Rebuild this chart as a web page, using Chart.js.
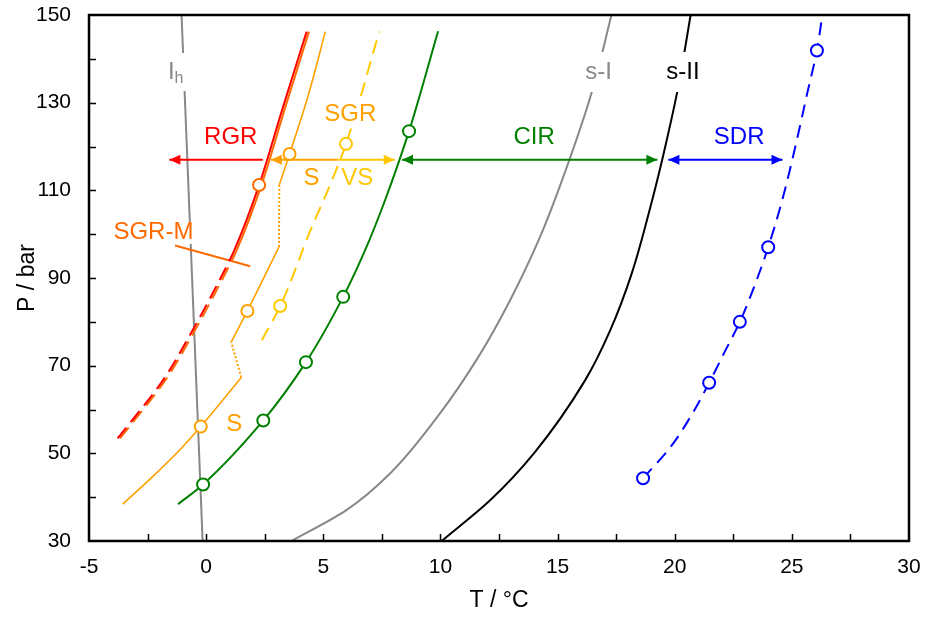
<!DOCTYPE html>
<html>
<head>
<meta charset="utf-8">
<script src="https://cdn.jsdelivr.net/npm/chart.js@4.4.1/dist/chart.umd.min.js"></script>
<style>
  html, body { margin: 0; padding: 0; background: #fff; }
</style>
</head>
<body>
<canvas id="chart" width="930" height="619"></canvas>
<script>
// Hydrate phase boundaries: T in °C, P in bar

// ice Ih melting line
const ihT = [-0.15, -1.05];
const ihP = [30, 150];

// structure I and structure II equilibrium curves
const sIT = [3.58, 6.0, 7.85, 9.98, 11.62, 12.98, 14.27, 15.50, 16.51, 17.30];
const sIP = [29.8, 37.1, 45.4, 59.1, 72.0, 85.0, 99.6, 116.9, 133.3, 150];
const sIIT = [10.05, 12.12, 13.99, 16.18, 17.25, 18.17, 19.04, 19.61, 20.15, 20.68];
const sIIP = [30, 39.3, 50.0, 66.7, 78.1, 91.1, 107.8, 120.3, 133.6, 150];

// RGR (red) and SGR (orange) boundaries, dashed below dashBelowP
const dashBelowP = 96.2;
const rgrT = [-3.78, -1.84, -0.65, 0.51, 1.19, 2.26, 3.24, 4.29];
const rgrP = [53.4, 66.7, 77.4, 88.9, 96.2, 111.2, 128.3, 146.2];
const sgrT = [-3.68, -1.74, -0.55, 0.61, 1.29, 2.36, 3.34, 4.39];
const sgrP = [53.4, 66.7, 77.4, 88.9, 96.2, 111.2, 128.3, 146.2];
const sgrMarkT = [2.26];
const sgrMarkP = [111.2];

// SGR-M tie line
const sgrmT = [-1.33, 1.88];
const sgrmP = [97.4, 92.7];

// S curve, three solid pieces joined by dotted steps
const sLowT = [-3.56, -2.34, -1.21, -0.23, 1.50];
const sLowP = [38.4, 44.4, 50.3, 56.1, 67.3];
const sMidT = [1.07, 1.76, 3.11];
const sMidP = [75.4, 82.5, 97.1];
const sHighT = [3.12, 3.56, 4.30, 5.09];
const sHighP = [111.2, 118.3, 130.6, 146.2];
const sMarkT = [-0.23, 1.76, 3.56];
const sMarkP = [56.1, 82.5, 118.3];

// VS curve (dashed)
const vsT = [2.38, 3.16, 4.50, 5.35, 5.97, 7.39];
const vsP = [75.8, 83.6, 101.5, 112.0, 120.6, 146.2];
const vsMarkT = [3.16, 5.97];
const vsMarkP = [83.6, 120.6];

// CIR boundary
const cirT = [-1.20, -0.13, 2.44, 4.26, 5.85, 6.79, 7.64, 8.66, 9.90];
const cirP = [38.4, 42.9, 57.5, 70.8, 85.7, 96.4, 107.8, 123.5, 146.3];
const cirMarkT = [-0.13, 2.44, 4.26, 5.85, 8.66];
const cirMarkP = [42.9, 57.5, 70.8, 85.7, 123.5];

// SDR boundary (dashed)
const sdrT = [18.65, 19.83, 20.68, 21.47, 22.10, 22.78, 23.39, 23.99, 24.60, 25.15, 25.65, 26.07, 26.30];
const sdrP = [44.3, 51.5, 58.4, 66.1, 72.8, 80.0, 88.0, 97.0, 108.0, 120.0, 132.0, 141.9, 150];
const sdrMarkT = [18.65, 21.47, 22.78, 23.99, 26.07];
const sdrMarkP = [44.3, 66.1, 80.0, 97.0, 141.9];

// region arrows at a common pressure
const arrowP = 117;
const rgrArrowT = [2.42, -1.57];
const sArrowT = [5.6, 2.76];
const vsArrowT = [5.6, 8.05];
const cirArrowT = [8.36, 19.26];
const sdrArrowT = [19.73, 24.6];

// axis ranges and tick steps
const xMin = -5, xMax = 30, xStep = 5, xMinor = 2.5;
const yMin = 30, yMax = 150, yStep = 20, yMinor = 10;

const RED = '#ff0000', ORANGE = '#ffa000', DEEP = '#ff6a00', GOLD = '#ffc800',
      GREEN = '#008000', BLUE = '#0000ff', GREY = '#888888', BLACK = '#000000';

// text placed in data coordinates; gap = half height of the white patch behind it
const labels = [
  { text: 'I', sub: 'h', t: -1.30, p: 137, color: GREY, gap: 19 },
  { text: 's-I', t: 16.75, p: 137, color: GREY, gap: 20 },
  { text: 's-II', t: 20.35, p: 137, color: BLACK, gap: 20 },
  { text: 'RGR', t: 1.05, p: 122, color: RED },
  { text: 'SGR', t: 6.15, p: 127.3, color: ORANGE, gap: 14 },
  { text: 'S', t: 4.5, p: 112.8, color: ORANGE },
  { text: 'VS', t: 6.45, p: 112.8, color: GOLD },
  { text: 'CIR', t: 14.0, p: 122, color: GREEN },
  { text: 'SDR', t: 22.75, p: 122, color: BLUE },
  { text: 'SGR-M', t: -2.25, p: 100.3, color: DEEP, gap: 11 },
  { text: 'S', t: 1.2, p: 56.7, color: ORANGE }
];

function pts(T, P) { return T.map((t, i) => ({ x: t, y: P[i] })); }

// boundaries are steep, so interpolate T as a function of P
function curve(label, T, P, color, extra) {
  return Object.assign({
    label, data: pts(T, P), showLine: true, borderColor: color, borderWidth: 2,
    pointRadius: 0, pointHoverRadius: 0, indexAxis: 'y', cubicInterpolationMode: 'monotone'
  }, extra || {});
}

function marks(label, T, P, color) {
  return {
    label, data: pts(T, P), showLine: false, pointRadius: 6, pointHoverRadius: 6,
    pointBorderWidth: 2, pointBackgroundColor: '#ffffff', pointBorderColor: color
  };
}

function arrow(label, T, color, heads) {
  return {
    label, data: pts(T, T.map(() => arrowP)), showLine: true, borderColor: color,
    borderWidth: 2, pointRadius: 0, pointHoverRadius: 0, arrowHeads: heads
  };
}

function link(label, T1, P1, T2, P2, color) {
  // dotted step between the last point of one piece and the first of the next
  return curve(label, [T1[T1.length - 1], T2[0]], [P1[P1.length - 1], P2[0]], color,
    { borderDash: [2, 2], borderWidth: 2 });
}

// long dashes on the low-pressure part of a boundary
const dashLow = { segment: { borderDash: c => (c.p1.parsed.y <= dashBelowP ? [14, 7] : undefined) } };

const datasets = [
  marks('CIR points', cirMarkT, cirMarkP, GREEN),
  marks('SDR points', sdrMarkT, sdrMarkP, BLUE),
  marks('S points', sMarkT, sMarkP, ORANGE),
  marks('VS points', vsMarkT, vsMarkP, GOLD),
  marks('SGR point', sgrMarkT, sgrMarkP, DEEP),

  arrow('RGR arrow', rgrArrowT, RED, 'end'),
  arrow('S arrow', sArrowT, ORANGE, 'end'),
  arrow('VS arrow', vsArrowT, GOLD, 'end'),
  arrow('CIR arrow', cirArrowT, GREEN, 'both'),
  arrow('SDR arrow', sdrArrowT, BLUE, 'both'),

  curve('RGR', rgrT, rgrP, RED, dashLow),
  curve('SGR', sgrT, sgrP, DEEP, dashLow),
  curve('SGR-M', sgrmT, sgrmP, DEEP, { indexAxis: 'x' }),

  curve('S low', sLowT, sLowP, ORANGE, { borderWidth: 1.6 }),
  curve('S mid', sMidT, sMidP, ORANGE, { borderWidth: 1.6 }),
  curve('S high', sHighT, sHighP, ORANGE, { borderWidth: 1.6 }),
  link('S step 1', sLowT, sLowP, sMidT, sMidP, ORANGE),
  link('S step 2', sMidT, sMidP, sHighT, sHighP, ORANGE),

  curve('VS', vsT, vsP, GOLD, { borderDash: [14, 8] }),
  curve('CIR', cirT, cirP, GREEN),
  curve('SDR', sdrT, sdrP, BLUE, { borderDash: [13, 8] }),

  curve('s-II', sIIT, sIIP, BLACK),
  curve('s-I', sIT, sIP, GREY),
  curve('Ih', ihT, ihP, GREY)
];

const FONT = '"Liberation Sans", Arial, sans-serif';

const decor = {
  id: 'decor',
  afterDatasetsDraw(chart) {
    const { ctx, chartArea: a, scales: { x, y } } = chart;
    ctx.save();

    // arrowheads on the region arrows
    chart.data.datasets.forEach((ds, i) => {
      if (!ds.arrowHeads) return;
      const el = chart.getDatasetMeta(i).data;
      const ends = ds.arrowHeads === 'both' ? [[1, 0], [0, 1]] : [[1, 0]];
      ctx.fillStyle = ds.borderColor;
      ends.forEach(([tip, from]) => {
        const p = el[tip], q = el[from];
        const dir = Math.sign(p.x - q.x);
        ctx.beginPath();
        ctx.moveTo(p.x, p.y);
        ctx.lineTo(p.x - dir * 11, p.y - 5);
        ctx.lineTo(p.x - dir * 11, p.y + 5);
        ctx.closePath();
        ctx.fill();
      });
    });

    // labels, some on a white patch that cuts the line behind them
    ctx.textAlign = 'center';
    ctx.textBaseline = 'middle';
    labels.forEach(l => {
      const px = x.getPixelForValue(l.t), py = y.getPixelForValue(l.p);
      ctx.font = '24px ' + FONT;
      const w1 = ctx.measureText(l.text).width;
      let w2 = 0;
      if (l.sub) {
        ctx.font = '16px ' + FONT;
        w2 = ctx.measureText(l.sub).width;
      }
      const w = w1 + w2;
      if (l.gap) {
        ctx.fillStyle = '#ffffff';
        ctx.fillRect(px - w / 2 - 3, py - l.gap, w + 6, 2 * l.gap);
      }
      ctx.fillStyle = l.color;
      ctx.font = '24px ' + FONT;
      ctx.fillText(l.text, px - w / 2 + w1 / 2, py);
      if (l.sub) {
        ctx.font = '16px ' + FONT;
        ctx.fillText(l.sub, px - w / 2 + w1 + w2 / 2, py + 7);
      }
    });

    // inward tick marks
    ctx.strokeStyle = '#000';
    ctx.lineWidth = 1.5;
    ctx.beginPath();
    for (let v = xMin + xMinor; v < xMax; v += xMinor) {
      const px = Math.round(x.getPixelForValue(v)) + 0.5;
      ctx.moveTo(px, a.bottom);
      ctx.lineTo(px, a.bottom - 7);
    }
    for (let v = yMin + yMinor; v < yMax; v += yMinor) {
      const py = Math.round(y.getPixelForValue(v)) + 0.5;
      ctx.moveTo(a.left, py);
      ctx.lineTo(a.left + 7, py);
    }
    ctx.stroke();

    // plot frame
    ctx.lineWidth = 2.5;
    ctx.strokeRect(a.left, a.top, a.right - a.left, a.bottom - a.top);
    ctx.restore();
  }
};

Chart.defaults.font.family = FONT;
Chart.defaults.color = '#000';

new Chart(document.getElementById('chart'), {
  type: 'scatter',
  data: { datasets },
  options: {
    responsive: false,
    animation: false,
    layout: { padding: { top: 15, right: 21, left: 0, bottom: 0 } },
    plugins: { legend: { display: false }, tooltip: { enabled: false } },
    scales: {
      x: {
        type: 'linear', min: xMin, max: xMax,
        grid: { display: false, drawTicks: false },
        border: { display: false },
        ticks: { stepSize: xStep, padding: 14, font: { size: 21 }, color: '#000' },
        title: { display: true, text: 'T / °C', font: { size: 23 }, color: '#000', padding: { bottom: 5 } },
        afterFit: s => { s.height = 78; s.paddingLeft = 0; s.paddingRight = 0; }
      },
      y: {
        type: 'linear', min: yMin, max: yMax,
        grid: { display: false, drawTicks: false },
        border: { display: false },
        ticks: { stepSize: yStep, padding: 18, font: { size: 21 }, color: '#000' },
        title: { display: true, text: 'P / bar', font: { size: 23 }, color: '#000', padding: { top: 14 } },
        afterFit: s => { s.width = 89; s.paddingTop = 0; s.paddingBottom = 0; }
      }
    }
  },
  plugins: [decor]
});
</script>
</body>
</html>
